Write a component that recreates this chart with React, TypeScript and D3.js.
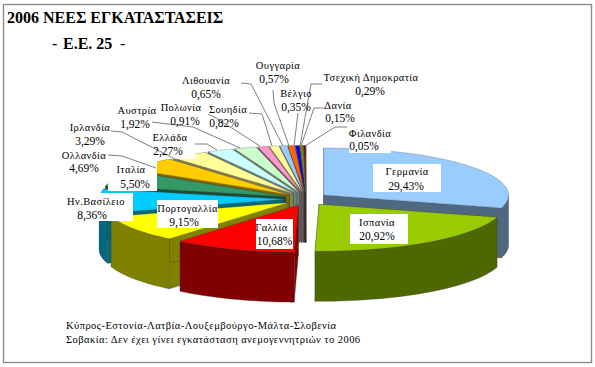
import React from "react";
import * as d3 from "d3";

const countries = ["Γερμανία","Ισπανία","Γαλλία","Πορτογαλλία","Ην.Βασίλειο","Ιταλία","Ολλανδία","Ιρλανδία","Ελλάδα","Αυστρία","Πολωνία","Σουηδία","Λιθουανία","Ουγγαρία","Βέλγιο","Τσεχική Δημοκρατία","Δανία","Φιλανδία"];
const shares = [29.43,20.92,10.68,9.15,8.36,5.5,4.69,3.29,2.27,1.92,0.91,0.82,0.65,0.57,0.35,0.29,0.15,0.05];
const shareLabels = ["29,43%","20,92%","10,68%","9,15%","8,36%","5,50%","4,69%","3,29%","2,27%","1,92%","0,91%","0,82%","0,65%","0,57%","0,35%","0,29%","0,15%","0,05%"];
const topColors = ["#99CCFF","#99CC00","#FF0000","#FFFF00","#00CCFF","#339966","#FFCC00","#FFFF99","#CCFFFF","#CCFFCC","#FF99CC","#FFFF99","#99CCFF","#FF6600","#0000FF","#808000","#800000","#333333"];
const noteLines = ["Κύπρος-Εστονία-Λατβία-Λουξεμβούργο-Μάλτα-Σλοβενία","Σοβακία: Δεν έχει γίνει εγκατάσταση ανεμογεννητριών το 2006"];

// name centre x, name baseline, value centre x, value baseline
const LABEL_POS: [number, number, number, number][] = [
  [407,175,406,190],[377,226,377,240],[271.5,231,274.5,245],[187.5,212,184,226],[96,205,92,219],
  [131,173,135,188],[84,159,84,172],[90,131,90,145],[170,141,168,155],[137,114,135,128],
  [181,111,185,125],[228,113,224,127],[206,84,206,98],[278,69,274,83],[296,97,296,111],
  [371,81,370,95],[338,109,340,122],[370,137,364,150],
];
const BOXES: [number, number, number, number][] = [
  [373,164,68,28],[350,214,58,30],[256,219,37,30],[157,200,61,28],[60,193,73,28],
  [108,160,49,31],[153,127,42,32],[349,125,42,28],
];
const LEADERS: [number, number][][] = [
  [[108,155],[122,156],[156,168]],
  [[111,131],[122,132],[177,160]],
  [[195,144],[207,144],[217,150]],
  [[152,122],[160,123],[193,127],[240,148]],
  [[208,114],[216,118],[260,146]],
  [[249,113],[262,114],[272,146]],
  [[241,83],[251,84],[283,146]],
  [[273,90],[274,103],[289,146]],
  [[298,113],[294,146]],
  [[322,84],[311,84],[300,146]],
  [[325,108],[314,108],[301,146]],
  [[347,127],[335,127],[305,146]],
];

const cx = 306, cy = 199, rx = 185, ry = 47, depth = 50, explode = 22, squash = 0.3;
const pie = d3.pie<number>().sort(null).value(d => d)(shares);
const arcPt = (a: number, ox: number, oy: number): [number, number] => [ox + rx * Math.sin(a), oy - ry * Math.cos(a)];

export default function App() {
  const line = d3.line();
  const slices = pie.map((p, i) => {
    const mid = (p.startAngle + p.endAngle) / 2;
    const ox = cx + explode * Math.sin(mid);
    const oy = cy - explode * squash * Math.cos(mid);
    const angle = (k: number) => p.startAngle + (p.endAngle - p.startAngle) * k / 40;
    const pts: [number, number][] = d3.range(0, 41).map(k => arcPt(angle(k), ox, oy));
    const base: [number, number] = [ox, oy];
    const top = line([base, ...pts])! + "Z";
    const wallPts = pts.filter((_, k) => Math.cos(angle(k)) <= 0.03);
    const wall = wallPts.length > 1 ? line([...wallPts, ...[...wallPts].reverse().map(q => [q[0], q[1] + depth] as [number, number])])! + "Z" : "";
    const face = (q: [number, number]) => line([base, q, [q[0], q[1] + depth], [base[0], base[1] + depth]])! + "Z";
    const faces = [face(pts[0]), face(pts[40])];
    const dark = d3.color(topColors[i])!.darker(1.9).formatHex();
    return { i, top, wall, faces, dark, order: -Math.cos(mid) };
  });
  const ordered = [...slices].sort((a, b) => a.order - b.order);
  return (
    <svg width={595} height={367} style={{ position: "absolute", left: 0, top: 0 }} fontFamily="'Liberation Serif', serif">
      <rect width={595} height={367} fill="#fff" />
      <rect x={3.5} y={4.5} width={588} height={358} fill="#fff" stroke="#8c8c8c" strokeWidth={1.4} />
      <text x={7} y={23} fontSize={16} fontWeight="bold" fill="#000">2006 ΝΕΕΣ ΕΓΚΑΤΑΣΤΑΣΕΙΣ</text>
      <text x={52} y={49} fontSize={16} fill="#000">-</text>
      <text x={63} y={49} fontSize={16} fontWeight="bold" fill="#000">Ε.Ε. 25</text>
      <text x={120} y={49} fontSize={16} fill="#000">-</text>
      {ordered.map(s => (
        <g key={s.i}>
          {s.faces.map((d, k) => <path key={k} d={d} fill={s.dark} stroke="#333" strokeWidth={0.3} />)}
          {s.wall && <path d={s.wall} fill={s.dark} stroke="#333" strokeWidth={0.3} />}
          <path d={s.top} fill={topColors[s.i]} stroke="#555" strokeWidth={0.3} />
        </g>
      ))}
      {BOXES.map((b, i) => <rect key={i} x={b[0]} y={b[1]} width={b[2]} height={b[3]} fill="#fff" />)}
      {LEADERS.map((l, i) => <path key={i} d={line(l)!} fill="none" stroke="#808080" strokeWidth={1} />)}
      {countries.map((c, i) => {
        const [nx, ny, vx, vy] = LABEL_POS[i];
        return (
          <g key={c}>
            <text x={nx} y={ny} textAnchor="middle" fontSize={10.5} letterSpacing={0.4} fill="#000">{c}</text>
            <text x={vx} y={vy} textAnchor="middle" fontSize={11.5} fill="#000">{shareLabels[i]}</text>
          </g>
        );
      })}
      {noteLines.map((n, i) => <text key={i} x={66} y={329 + i * 14} fontSize={10.5} letterSpacing={0.45} fill="#000">{n}</text>)}
    </svg>
  );
}
